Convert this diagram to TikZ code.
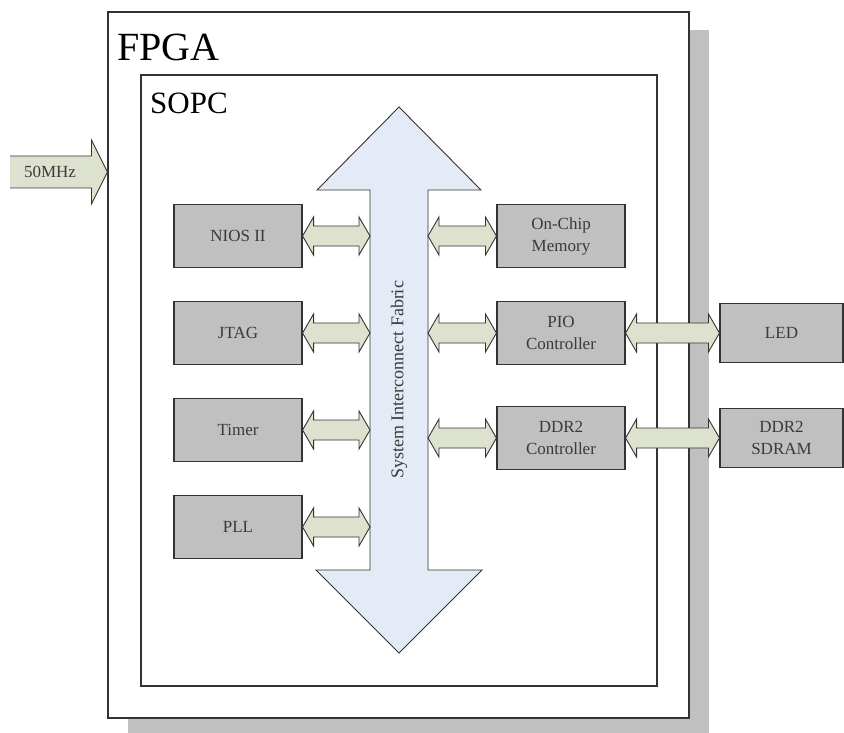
\documentclass[tikz,border=0pt]{standalone}
\usepackage{fontspec}
\setmainfont{Liberation Serif}
\usetikzlibrary{calc}
\definecolor{boxgray}{HTML}{C0C0C0}
\definecolor{busgreen}{HTML}{DDE2CE}
\definecolor{fabricblue}{HTML}{E4EBF6}
\definecolor{edgecol}{HTML}{333333}
\definecolor{txt}{HTML}{3A3A3A}
\definecolor{shadowgray}{HTML}{C0C0C0}
% block double arrow between two points on one horizontal line
\newcommand\busarrow[2]{%
  \filldraw[bus] (#1) -- ($(#1)+(11,-19)$) -- ($(#1)+(11,-10)$)
    -- ($(#2)+(-11,-10)$) -- ($(#2)+(-11,-19)$) -- (#2)
    -- ($(#2)+(-11,19)$) -- ($(#2)+(-11,10)$)
    -- ($(#1)+(11,10)$) -- ($(#1)+(11,19)$) -- cycle;}
\begin{document}
\begin{tikzpicture}[x=1pt,y=-1pt,
  blk/.style={draw=edgecol, line width=1.1pt, fill=boxgray,
    minimum width=128pt, minimum height=63pt, inner sep=0pt,
    align=center, font=\fontsize{17}{22}\selectfont, text=txt},
  extblk/.style={blk, minimum width=123pt, minimum height=59pt},
  bus/.style={draw=edgecol, line width=0.9pt, fill=busgreen, line join=miter},
  frame/.style={draw=edgecol, line width=1.1pt},
  title/.style={anchor=west, inner sep=0pt, text=black}]
\useasboundingbox (0,0) rectangle (844,733);

% FPGA with shadow
\fill[shadowgray] (128,30) rectangle (709,733);
\node[frame, fill=white, minimum width=581pt, minimum height=706pt, inner sep=0pt] (fpga) at (398.5,365) {};
\node[title, font=\fontsize{40}{40}\selectfont] (fpgalbl) at (117,47) {FPGA};

% SOPC
\node[frame, minimum width=516pt, minimum height=611pt, inner sep=0pt] (sopc) at (399,380.5) {};
\node[title, font=\fontsize{31}{31}\selectfont] (sopclbl) at (150,103) {SOPC};

% System interconnect fabric (big double arrow)
\filldraw[draw=edgecol, line width=0.9pt, fill=fabricblue, line join=miter]
  (399,107) -- (481,190) -- (428,190) -- (428,570) -- (482,570) -- (399,653)
  -- (316,570) -- (370,570) -- (370,190) -- (317,190) -- cycle;
\coordinate (shaftL) at (370,380);
\coordinate (shaftR) at (428,380);
\node[rotate=90, font=\fontsize{18}{18}\selectfont, text=txt] (fabric) at (399,380) {System Interconnect Fabric};

% left column
\node[blk] (nios)  at (238,236) {NIOS II};
\node[blk] (jtag)  at (238,333) {JTAG};
\node[blk] (timer) at (238,430) {Timer};
\node[blk] (pll)   at (238,527) {PLL};

% right column
\node[blk] (onchip) at (561,236) {On-Chip\\Memory};
\node[blk] (pio)    at (561,333) {PIO\\Controller};
\node[blk] (ddr)    at (561,438) {DDR2\\Controller};

% external devices
\node[extblk] (led)   at (781.5,333) {LED};
\node[extblk] (sdram) at (781.5,438) {DDR2\\SDRAM};

% bus connections
\coordinate (l1) at (nios.east -| shaftL);
\coordinate (l2) at (jtag.east -| shaftL);
\coordinate (l3) at (timer.east -| shaftL);
\coordinate (l4) at (pll.east -| shaftL);
\coordinate (r1) at (onchip.west -| shaftR);
\coordinate (r2) at (pio.west -| shaftR);
\coordinate (r3) at (ddr.west -| shaftR);
\busarrow{nios.east}{l1}
\busarrow{jtag.east}{l2}
\busarrow{timer.east}{l3}
\busarrow{pll.east}{l4}
\busarrow{r1}{onchip.west}
\busarrow{r2}{pio.west}
\busarrow{r3}{ddr.west}
\busarrow{pio.east}{led.west}
\busarrow{ddr.east}{sdram.west}

% 50MHz clock input
\coordinate (clkin) at (10,172);
\coordinate (clktip) at (clkin -| fpga.west);
\fill[busgreen] (clkin) ++(0,-16) -- ($(clktip)+(-16,-16)$) -- ($(clktip)+(-16,-32)$) -- (clktip)
  -- ($(clktip)+(-16,32)$) -- ($(clktip)+(-16,16)$) -- ($(clkin)+(0,16)$) -- cycle;
\draw[draw=edgecol, line width=0.9pt, line join=miter] ($(clkin)+(0,-16)$) -- ($(clktip)+(-16,-16)$) -- ($(clktip)+(-16,-32)$) -- (clktip)
  -- ($(clktip)+(-16,32)$) -- ($(clktip)+(-16,16)$) -- ($(clkin)+(0,16)$);
\node[font=\fontsize{17}{17}\selectfont, text=txt] (clklbl) at (50,172) {50MHz};
\end{tikzpicture}
\end{document}
